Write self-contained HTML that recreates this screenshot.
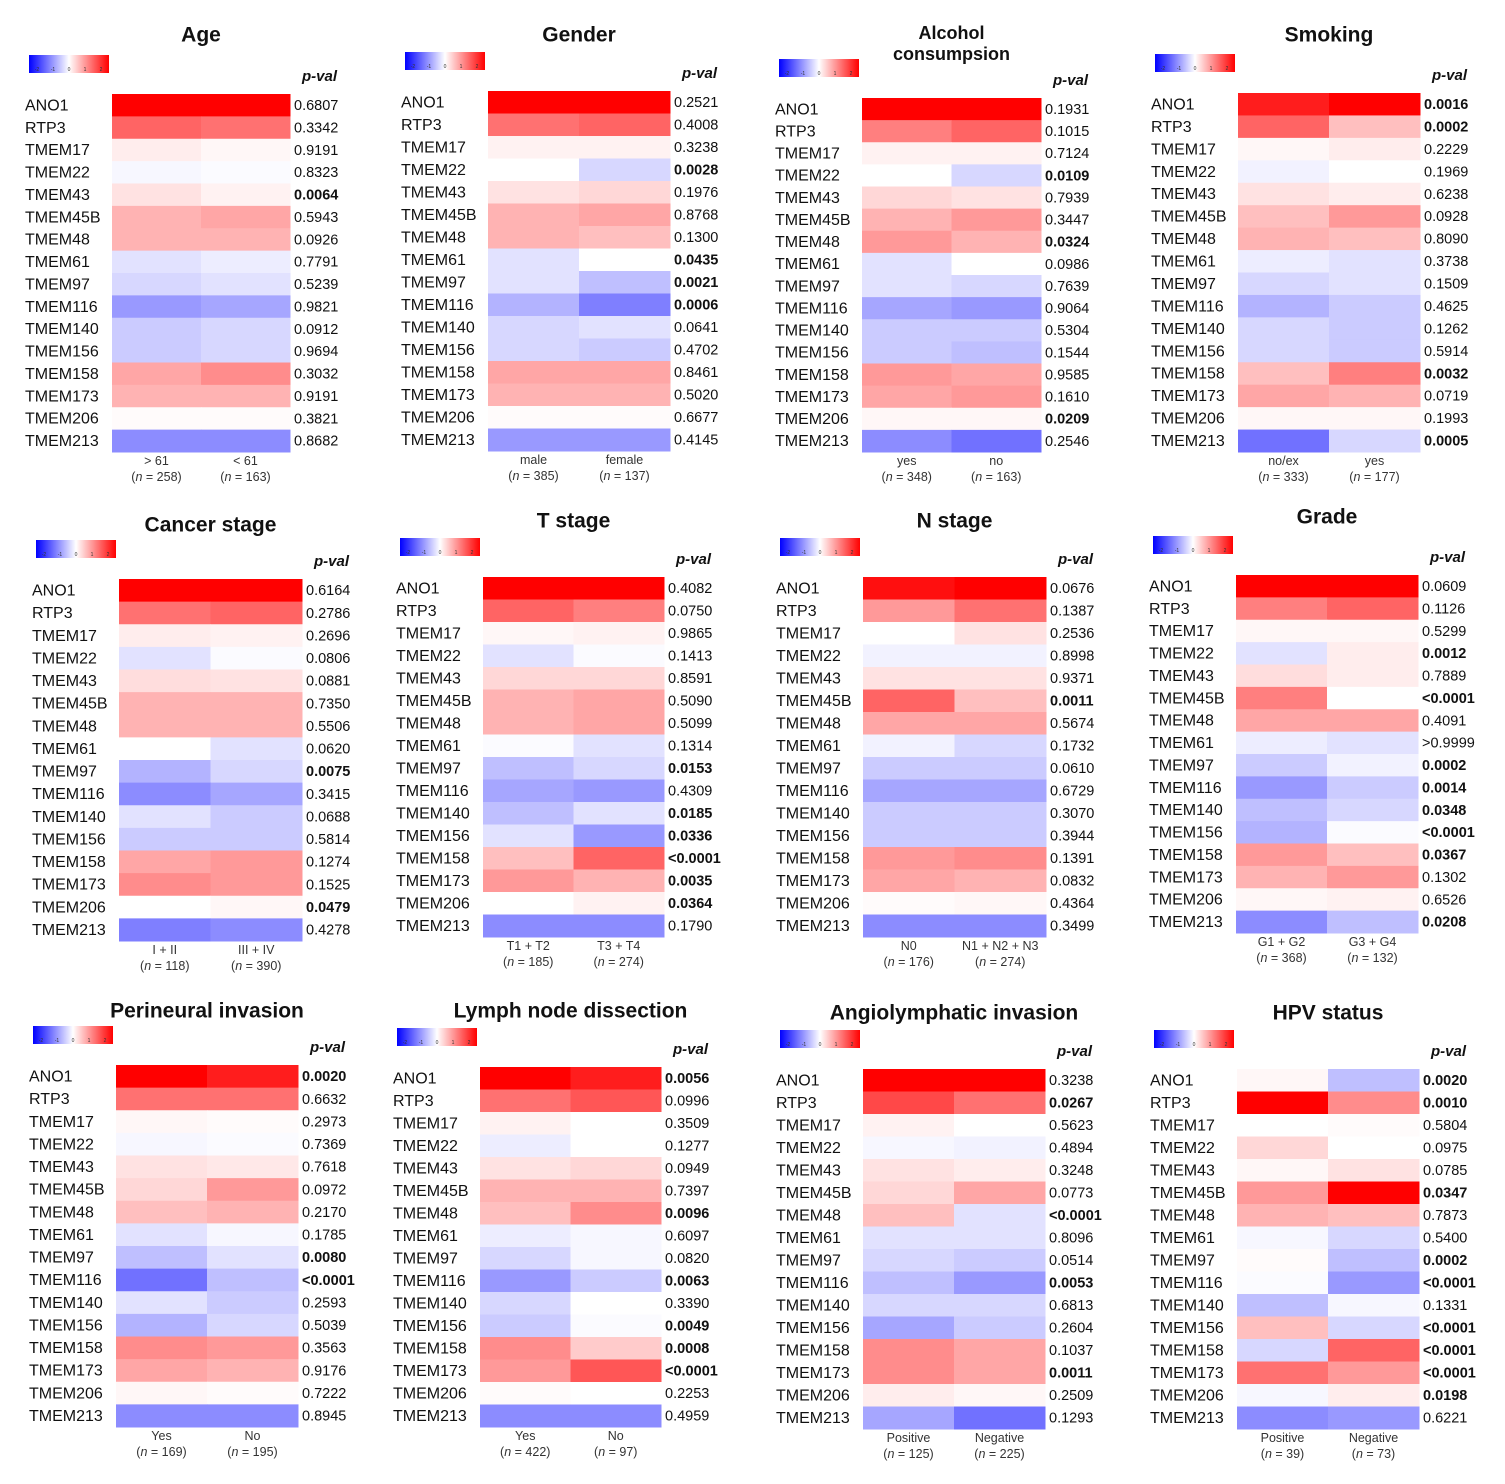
<!DOCTYPE html>
<html><head><meta charset="utf-8">
<style>
body{margin:0;background:#fff;width:1505px;height:1479px;overflow:hidden;font-family:"Liberation Sans",Arial,sans-serif;}
svg text{font-family:"Liberation Sans",Arial,sans-serif;}
</style></head>
<body>
<svg id="c" width="1505" height="1479" viewBox="0 0 1505 1479" xmlns="http://www.w3.org/2000/svg">
<defs><linearGradient id="cb" x1="0" x2="1" y1="0" y2="0">
<stop offset="0" stop-color="#0000ff"/><stop offset="0.5" stop-color="#ffffff"/><stop offset="1" stop-color="#ff0000"/></linearGradient></defs>
</svg>
<script>
const genes=["ANO1","RTP3","TMEM17","TMEM22","TMEM43","TMEM45B","TMEM48","TMEM61","TMEM97","TMEM116","TMEM140","TMEM156","TMEM158","TMEM173","TMEM206","TMEM213"];
const titles=[["Age"],["Gender"],["Alcohol","consumpsion"],["Smoking"],["Cancer stage"],["T stage"],["N stage"],["Grade"],["Perineural invasion"],["Lymph node dissection"],["Angiolymphatic invasion"],["HPV status"]];
const groupLabels=[["> 61","< 61"],["male","female"],["yes","no"],["no/ex","yes"],["I + II","III + IV"],["T1 + T2","T3 + T4"],["N0","N1 + N2 + N3"],["G1 + G2","G3 + G4"],["Yes","No"],["Yes","No"],["Positive","Negative"],["Positive","Negative"]];
const groupN=[["258","163"],["385","137"],["348","163"],["333","177"],["118","390"],["185","274"],["176","274"],["368","132"],["169","195"],["422","97"],["125","225"],["39","73"]];
const col1=[
[2,1.3,0.2,-0.1,0.3,0.7,0.7,-0.3,-0.4,-0.9,-0.5,-0.5,0.8,0.7,0.05,-1.0],
[2,1.2,0.15,0,0.3,0.7,0.7,-0.3,-0.3,-0.7,-0.4,-0.4,0.8,0.7,0.05,-0.9],
[2,1.1,0.15,0,0.4,0.7,0.9,-0.3,-0.3,-0.8,-0.5,-0.5,0.9,0.8,0.1,-1.0],
[1.8,1.3,0.1,-0.15,0.3,0.6,0.7,-0.2,-0.4,-0.7,-0.4,-0.4,0.6,0.8,0.1,-1.2],
[2,1.2,0.2,-0.3,0.35,0.7,0.7,0,-0.7,-1.0,-0.3,-0.5,0.8,1.0,0,-1.1],
[2,1.3,0.1,-0.3,0.4,0.7,0.7,-0.05,-0.6,-0.8,-0.6,-0.3,0.6,0.9,0,-1.0],
[1.9,0.9,0,-0.15,0.3,1.3,0.8,-0.15,-0.5,-0.8,-0.5,-0.5,0.9,0.8,0.05,-1.0],
[2,1.1,0.1,-0.3,0.35,1.1,0.8,-0.2,-0.5,-0.9,-0.6,-0.7,0.9,0.7,0.1,-1.0],
[2,1.2,0.1,-0.1,0.3,0.4,0.6,-0.3,-0.6,-1.2,-0.3,-0.7,1.0,0.8,0.1,-1.0],
[2,1.2,0.15,-0.2,0.3,0.7,0.6,-0.2,-0.4,-0.9,-0.4,-0.5,1.0,0.9,0.05,-1.0],
[2,1.5,0.15,-0.1,0.3,0.4,0.6,-0.3,-0.4,-0.6,-0.4,-0.8,1.0,1.0,0.2,-0.8],
[0.1,2,0,0.4,0.1,0.9,0.7,-0.1,0.05,-0.05,-0.6,0.6,-0.4,1.2,-0.1,-1.0]];
const col2=[
[2,1.2,0.1,-0.05,0.15,0.8,0.7,-0.2,-0.3,-0.8,-0.4,-0.4,1.0,0.7,0.05,-1.0],
[2,1.3,0.15,-0.4,0.4,0.8,0.6,0,-0.6,-1.1,-0.3,-0.5,0.8,0.7,0.05,-0.9],
[2,1.3,0.15,-0.4,0.3,0.9,0.7,0,-0.4,-0.9,-0.5,-0.6,0.8,0.9,0.1,-1.2],
[2.1,0.6,0.2,0,0.2,0.9,0.6,-0.3,-0.3,-0.5,-0.5,-0.5,1.1,0.7,0.1,-0.4],
[2,1.3,0.15,-0.05,0.3,0.7,0.7,-0.3,-0.4,-0.8,-0.5,-0.5,0.9,0.9,0.1,-1.0],
[2,1.1,0.15,-0.05,0.4,0.8,0.8,-0.3,-0.4,-0.9,-0.3,-0.9,1.3,0.7,0.15,-1.0],
[2,1.2,0.3,-0.15,0.3,0.6,0.8,-0.4,-0.5,-0.8,-0.5,-0.5,1.0,0.7,0.1,-1.0],
[2,1.3,0.1,0.2,0.2,0,0.8,-0.3,-0.15,-0.5,-0.4,-0.05,0.6,0.9,0.15,-0.6],
[1.8,1.2,0.05,-0.05,0.25,0.9,0.7,-0.1,-0.3,-0.6,-0.5,-0.4,0.9,0.7,0.05,-1.0],
[1.8,1.4,0,0,0.4,0.7,1.0,-0.1,-0.1,-0.5,0,-0.05,0.5,1.4,0,-1.0],
[2,1.2,0,-0.15,0.2,0.8,-0.3,-0.3,-0.5,-0.9,-0.4,-0.5,0.8,0.8,0.1,-1.2],
[-0.6,1.0,0.05,0,0.3,2.1,0.6,-0.4,-0.6,-0.9,-0.1,-0.4,1.3,0.9,0.2,-0.9]];
const pvals=[
["0.6807","0.3342","0.9191","0.8323","0.0064","0.5943","0.0926","0.7791","0.5239","0.9821","0.0912","0.9694","0.3032","0.9191","0.3821","0.8682"],
["0.2521","0.4008","0.3238","0.0028","0.1976","0.8768","0.1300","0.0435","0.0021","0.0006","0.0641","0.4702","0.8461","0.5020","0.6677","0.4145"],
["0.1931","0.1015","0.7124","0.0109","0.7939","0.3447","0.0324","0.0986","0.7639","0.9064","0.5304","0.1544","0.9585","0.1610","0.0209","0.2546"],
["0.0016","0.0002","0.2229","0.1969","0.6238","0.0928","0.8090","0.3738","0.1509","0.4625","0.1262","0.5914","0.0032","0.0719","0.1993","0.0005"],
["0.6164","0.2786","0.2696","0.0806","0.0881","0.7350","0.5506","0.0620","0.0075","0.3415","0.0688","0.5814","0.1274","0.1525","0.0479","0.4278"],
["0.4082","0.0750","0.9865","0.1413","0.8591","0.5090","0.5099","0.1314","0.0153","0.4309","0.0185","0.0336","<0.0001","0.0035","0.0364","0.1790"],
["0.0676","0.1387","0.2536","0.8998","0.9371","0.0011","0.5674","0.1732","0.0610","0.6729","0.3070","0.3944","0.1391","0.0832","0.4364","0.3499"],
["0.0609","0.1126","0.5299","0.0012","0.7889","<0.0001","0.4091",">0.9999","0.0002","0.0014","0.0348","<0.0001","0.0367","0.1302","0.6526","0.0208"],
["0.0020","0.6632","0.2973","0.7369","0.7618","0.0972","0.2170","0.1785","0.0080","<0.0001","0.2593","0.5039","0.3563","0.9176","0.7222","0.8945"],
["0.0056","0.0996","0.3509","0.1277","0.0949","0.7397","0.0096","0.6097","0.0820","0.0063","0.3390","0.0049","0.0008","<0.0001","0.2253","0.4959"],
["0.3238","0.0267","0.5623","0.4894","0.3248","0.0773","<0.0001","0.8096","0.0514","0.0053","0.6813","0.2604","0.1037","0.0011","0.2509","0.1293"],
["0.0020","0.0010","0.5804","0.0975","0.0785","0.0347","0.7873","0.5400","0.0002","<0.0001","0.1331","<0.0001","<0.0001","<0.0001","0.0198","0.6221"]];
const boxes=[[112,290,94,452],[488,670,91,451],[862,1041,98,452],[1238,1420,93,452],
[119,302,579,941],[483,664,577,937],[863,1046,577,937],[1236,1418,575,933],
[116,298,1065,1427],[480,661,1067,1427],[863,1045,1069,1429],[1237,1419,1069,1429]];
const titleY=[36,36,34,36,526,522,522,518,1012,1012,1014,1014];

const svg=document.getElementById('c');
const NS="http://www.w3.org/2000/svg";
function mk(tag,attrs,parent){const e=document.createElementNS(NS,tag);for(const k in attrs)e.setAttribute(k,attrs[k]);(parent||svg).appendChild(e);return e;}
function color(v){v=Math.max(-2,Math.min(2,v));const t=Math.pow(Math.abs(v)/2,1.15);const o=Math.round(255*(1-t));return v>=0?`rgb(255,${o},${o})`:`rgb(${o},${o},255)`;}
function isBold(p){if(p.startsWith('<'))return true;if(p.startsWith('>'))return false;return parseFloat(p)<0.05;}

titles.forEach((tt,i)=>{
  const [L,R,T,B]=boxes[i];
  const g=mk('g',{});
  
  
  const cx=(L+R)/2, rh=(B-T)/genes.length, cw=(R-L)/2;
  tt.forEach((line,k)=>{
    const t=mk('text',{x:cx,y:titleY[i]+k*21,'text-anchor':'middle','font-size':tt.length>1?18:21,'font-weight':'bold','dominant-baseline':'middle',fill:'#111'},g);
    t.textContent=line;
    
    
  });
  const cbx=L-83, cby=T-39;
  const cb=mk('rect',{x:cbx,y:cby,width:80,height:18,fill:'url(#cb)'},g);
  
  
  [-2,-1,0,1,2].forEach((v,k)=>{
    const tx=mk('text',{x:cbx+8+k*16,y:cby+16,'font-size':5,'text-anchor':'middle',fill:'#333'},g);
    tx.textContent=v;
    
    
  });
  const ph=mk('text',{x:R+47,y:T-13,'font-size':15,'font-weight':'bold','font-style':'italic','text-anchor':'end',fill:'#111'},g);
  ph.textContent='p-val';
  
  
  genes.forEach((gn,r)=>{
    const y=T+r*rh;
    [col1[i][r],col2[i][r]].forEach((v,c)=>{
      const cell=mk('rect',{x:L+c*cw,y:y,width:cw+0.5,height:rh+0.5,fill:color(v)},g);
      
      
    });
    const gl=mk('text',{x:L-87,y:y+rh/2+1,'font-size':16,'dominant-baseline':'middle',fill:'#111'},g);
    gl.textContent=gn;
    
    
    const pv=pvals[i][r];
    const pl=mk('text',{x:R+4,y:y+rh/2+1,'font-size':14.5,'dominant-baseline':'middle',fill:'#111','font-weight':isBold(pv)?'bold':'normal'},g);
    pl.textContent=pv;
    
    
  });
  for(let c=0;c<2;c++){
    const x=L+cw*(c+0.5);
    const a=mk('text',{x:x,y:B+13,'font-size':12.5,'text-anchor':'middle',fill:'#333'},g);
    a.textContent=groupLabels[i][c];
    
    
    const b=mk('text',{x:x,y:B+29,'font-size':12.5,'text-anchor':'middle',fill:'#333'},g);
    b.innerHTML='(<tspan font-style="italic">n</tspan> = '+groupN[i][c]+')';
    
    
  }
});
</script>
</body></html>
